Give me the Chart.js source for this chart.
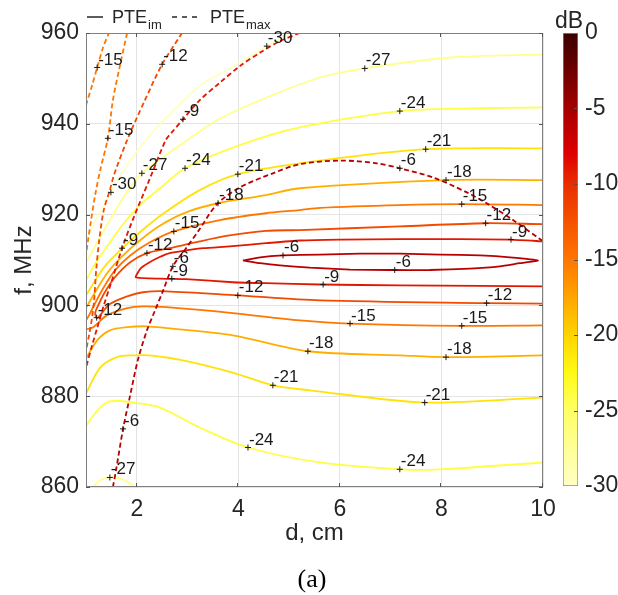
<!DOCTYPE html>
<html>
<head>
<meta charset="utf-8">
<script src="https://cdn.jsdelivr.net/npm/chart.js@4.4.1/dist/chart.umd.min.js"></script>
<style>
  html, body { margin: 0; padding: 0; background: #fff; }
  #wrap { position: relative; width: 618px; height: 595px; }
  #wrap canvas { position: absolute; top: 0; }
  #plot { left: 0; }
  #cbar { left: 545px; }
</style>
</head>
<body>
<div id="wrap">
  <canvas id="plot" width="618" height="595"></canvas>
  <canvas id="cbar" width="73" height="595"></canvas>
</div>
<script>
// axis ticks
const dTicks = [2, 4, 6, 8, 10];
const fTicks = [860, 880, 900, 920, 940, 960];
const dbTicks = [-30, -25, -20, -15, -10, -5, 0];

// PTE_im contours, points are [d (cm), f (MHz)], null breaks the line
const pteIm30 = [[1.0,914.3],[1.24,919.9],[1.49,924.9],[1.87,931.9],[2.26,937.5],[2.73,943.0],[3.24,948.4],[3.83,952.2],[4.56,957.1],[5.0,960]];
const pteIm27 = [[1.0,909.5],[1.24,914.3],[1.47,918.8],[1.77,924.3],[2.10,929.1],[2.79,934.8],[3.58,940.8],[4.56,945.8],[5.61,950.2],[6.49,952.2],[8.17,954.6],[10,955.3],
  null, [1.14,860],[1.28,861.5],[1.47,862.1],[1.67,861.9],[1.87,860.8],[1.96,860]];
const pteIm24 = [[1.0,905.5],[1.2,909.5],[1.43,913.2],[1.71,917.6],[2.06,922.1],[2.46,925.8],[2.95,930.2],[4.03,935.3],[5.21,939.2],[7.18,942.8],[8.56,943.4],[10,943.6],
  null, [1.0,873.5],[1.22,876.8],[1.41,878.6],[1.61,879.0],[1.93,878.6],[2.46,877.5],[3.24,873.1],[4.19,868.7],[5.61,865.4],[7.18,863.9],[7.97,863.9],[10,865.4]];
const pteIm21 = [[1.0,902.2],[1.16,905.1],[1.37,908.6],[1.67,912.1],[2.06,916.1],[2.56,920.5],[3.24,925.4],[3.99,928.9],[5.21,931.3],[7.69,934.4],[10,934.6],
  null, [1.0,880.6],[1.28,886.3],[1.61,888.6],[1.93,889.0],[2.26,889.0],[2.91,887.9],[3.89,885.2],[4.68,882.4],[5.41,881.3],[7.67,878.6],[10,879.7]];
const pteIm18 = [[10,927.6],[8.09,927.6],[5.21,925.8],[4.54,924.3],[3.6,922.5],[2.97,920.5],[2.46,917.6],[2.06,914.3],[1.71,910.8],[1.43,907.3],[1.2,903.3],[1.0,899.4],
  null, [1.0,888.3],[1.22,892.3],[1.47,894.5],[1.81,895.2],[2.2,895.4],[2.59,895.0],[3.89,893.4],[5.37,889.9],[7.18,889.0],[8.09,888.6],[10,889.0]];
const pteIm15 = [[10,922.1],[8.40,922.3],[7.18,922.1],[5.61,921.5],[5.21,921.0],[4.54,920.3],[3.64,918.8],[2.73,916.3],[2.26,913.9],[1.87,911.0],[1.57,907.7],[1.35,904.0],[1.18,900.5],[1.06,897.8],[1.0,896.7],
  null, [1.0,894.7],[1.14,895.2],[1.41,897.8],[1.81,899.4],[2.12,899.8],[2.59,899.6],[3.89,898.3],[5.21,896.7],[6.20,896.0],[8.40,895.5],[10,895.6]];
const pteIm12 = [[10,917.9],[8.87,918.1],[7.18,917.4],[5.21,916.6],[4.54,916.4],[3.83,915.4],[3.24,914.1],[2.65,912.6],[2.20,911.5],[1.87,909.5],[1.57,906.2],[1.37,902.9],[1.24,900.0],[1.18,898.3],[1.22,897.2],
  [1.31,898.3],[1.47,900.3],[1.81,902.0],[2.12,902.9],[2.59,903.1],[3.99,902.2],[5.61,901.1],[8.89,900.5],[10,900.4]];
const pteIm9 = [[10,914.1],[9.37,914.5],[8.36,914.6],[7.18,914.6],[6.0,914.5],[5.21,914.3],[4.54,913.7],[3.83,913.0],[3.32,912.6],[2.97,912.1],[2.65,911.5],[2.44,910.6],[2.22,909.3],[2.08,908.2],[1.98,906.2],
  [2.46,905.9],[2.97,905.8],[3.89,905.1],[4.54,904.9],[5.61,904.6],[7.18,904.4],[8.76,904.3],[10,904.2]];
const pteIm6 = [[4.09,909.9],[4.43,910.6],[4.88,911.0],[5.61,911.2],[6.39,911.4],[7.18,911.4],[7.97,911.2],[8.76,911.0],[9.35,910.6],[9.9,909.9],
  [9.54,909.3],[9.15,908.6],[8.56,908.1],[7.77,907.8],[6.98,907.8],[6.2,907.9],[5.41,908.3],[4.82,908.8],[4.43,909.3],[4.09,909.9]];

// PTE_max contours
const pteMax15 = [[1.0,944.1],[1.12,948.5],[1.22,952.4],[1.33,956.6],[1.45,960],
  null, [1.81,960],[1.67,952.9],[1.53,945.2],[1.43,936.8],[1.28,929.8],[1.18,924.3],[1.10,918.8],[1.04,914.3],[1.0,911.0]];
const pteMax12 = [[2.89,960],[2.50,953.1],[2.16,945.2],[1.81,936.4],[1.55,928.7],[1.47,925.4],[1.35,921.0],[1.26,914.3],[1.20,907.7],[1.16,901.1],[1.12,897.4],[1.06,893.4],[1.0,890.1]];
const pteMax9 = [[5.21,960],[4.82,958.2],[4.43,955.7],[4.03,952.7],[3.64,949.1],[3.24,945.2],[2.91,941.0],[2.69,938.1],[2.57,936.4],[2.26,928.0],[1.94,919.4],[1.71,912.6],[1.51,905.5],[1.35,900.0],[1.22,895.0],[1.12,891.2],[1.0,886.3]];
const pteMax6 = [[1.53,860],[1.59,863.6],[1.73,872.8],[1.87,880.2],[2.02,887.9],[2.20,894.5],[2.36,898.9],[2.52,903.3],[2.71,908.6],[2.97,912.6],[3.22,916.5],[3.58,922.3],[4.03,926.0],[4.68,929.1],[5.21,931.1],[6.0,931.9],[6.73,931.3],[7.18,930.2],[7.83,928.2],[8.50,924.9],[8.89,922.5],[9.41,918.8],[9.98,914.3]];

// contour labels [d, f, level]
const imLabels = [
  [4.56,957.1,-30],[1.49,924.9,-30],
  [6.49,952.2,-27],[2.10,929.1,-27],[1.47,862.1,-27],
  [7.18,942.8,-24],[2.95,930.2,-24],[4.19,868.7,-24],[7.18,863.9,-24],
  [7.69,934.4,-21],[3.99,928.9,-21],[4.68,882.4,-21],[7.67,878.6,-21],
  [8.09,927.6,-18],[3.60,922.5,-18],[5.37,889.9,-18],[8.09,888.6,-18],
  [8.40,922.3,-15],[2.73,916.3,-15],[6.20,896.0,-15],[8.40,895.5,-15],
  [8.87,918.1,-12],[2.20,911.5,-12],[3.99,902.2,-12],[8.89,900.5,-12],[1.21,897.3,-12],
  [9.37,914.5,-9],[2.69,905.9,-9],[5.67,904.6,-9],
  [4.88,911.0,-6],[7.08,907.8,-6]
];
const maxLabels = [
  [1.22,952.4,-15],[1.43,936.8,-15],
  [2.50,953.1,-12],
  [2.91,941.0,-9],[1.71,912.6,-9],
  [2.71,908.6,-6],[1.73,872.8,-6],[7.18,930.2,-6]
];

const imLines = [[-30, pteIm30], [-27, pteIm27], [-24, pteIm24], [-21, pteIm21], [-18, pteIm18], [-15, pteIm15], [-12, pteIm12], [-9, pteIm9], [-6, pteIm6]];
const maxLines = [[-15, pteMax15], [-12, pteMax12], [-9, pteMax9], [-6, pteMax6]];

// colour map, pale yellow (-30 dB) to dark red (0 dB)
const cmapStops = [[-30,[255,255,196]],[-27.5,[255,255,150]],[-25,[255,255,100]],[-22.5,[255,250,20]],[-20,[255,212,0]],[-17.5,[255,165,0]],
  [-15,[255,118,0]],[-12.5,[245,82,0]],[-10,[232,46,0]],[-8,[222,0,0]],[-5,[165,0,0]],[-2.5,[110,0,0]],[0,[58,0,0]]];

function cmap(v) {
  for (let i = 1; i < cmapStops.length; i++) {
    const [v0, c0] = cmapStops[i - 1];
    const [v1, c1] = cmapStops[i];
    if (v <= v1) {
      const t = (v - v0) / (v1 - v0);
      return 'rgb(' + c0.map((c, k) => Math.round(c + (c1[k] - c) * t)).join(',') + ')';
    }
  }
  return 'rgb(' + cmapStops[cmapStops.length - 1][1].join(',') + ')';
}

const FAM = '"Liberation Sans", Arial, Helvetica, sans-serif';
const TXT = '#262626';
Chart.defaults.font.family = FAM;
Chart.defaults.color = TXT;

const toXY = (arr) => arr.map((p) => p ? { x: p[0], y: p[1] } : { x: null, y: null });

const datasets = [
  {
    data: imLabels.concat(maxLabels).map((l) => ({ x: l[0], y: l[1] })),
    showLine: false, pointStyle: 'cross', pointRadius: 3, borderColor: '#1a1a1a', borderWidth: 1, order: 0
  },
  ...maxLines.map(([lv, arr]) => ({
    data: toXY(arr), showLine: true, borderColor: cmap(lv), borderWidth: 1.8, borderDash: [5, 3],
    pointRadius: 0, tension: 0.3, order: 1
  })),
  ...imLines.map(([lv, arr]) => ({
    data: toXY(arr), showLine: true, borderColor: cmap(lv), borderWidth: 1.8,
    pointRadius: 0, tension: lv === -6 || lv === -9 ? 0.15 : 0.3, order: 2
  }))
];

const frame = {
  id: 'frame',
  afterDatasetsDraw(chart) {
    const { ctx, chartArea: a, scales: { x, y } } = chart;
    ctx.save();
    ctx.strokeStyle = '#808080';
    ctx.lineWidth = 1;
    ctx.strokeRect(a.left + 0.5, a.top + 0.5, a.right - a.left - 1, a.bottom - a.top - 1);
    ctx.strokeStyle = '#555';
    ctx.beginPath();
    dTicks.forEach((v) => {
      const px = Math.round(x.getPixelForValue(v)) - 0.5;
      ctx.moveTo(px, a.bottom); ctx.lineTo(px, a.bottom - 4);
      ctx.moveTo(px, a.top); ctx.lineTo(px, a.top + 4);
    });
    fTicks.forEach((v) => {
      const py = Math.round(y.getPixelForValue(v)) + 0.5;
      ctx.moveTo(a.left, py); ctx.lineTo(a.left + 4, py);
      ctx.moveTo(a.right, py); ctx.lineTo(a.right - 4, py);
    });
    ctx.stroke();
    ctx.restore();
  }
};

const labelText = {
  id: 'labelText',
  afterDatasetsDraw(chart) {
    const { ctx, scales: { x, y } } = chart;
    ctx.save();
    ctx.font = '17px ' + FAM;
    ctx.fillStyle = '#1a1a1a';
    ctx.textAlign = 'left';
    ctx.textBaseline = 'alphabetic';
    imLabels.concat(maxLabels).forEach(([d, f, v]) => {
      ctx.fillText(String(v), x.getPixelForValue(d) + 1, y.getPixelForValue(f) - 3);
    });
    ctx.restore();
  }
};

const legendAndCaption = {
  id: 'legendAndCaption',
  afterDraw(chart) {
    const { ctx } = chart;
    ctx.save();
    ctx.strokeStyle = TXT;
    ctx.fillStyle = TXT;
    ctx.lineWidth = 1.5;
    ctx.beginPath(); ctx.moveTo(87, 17); ctx.lineTo(103, 17); ctx.stroke();
    ctx.setLineDash([5, 5]);
    ctx.beginPath(); ctx.moveTo(172, 17); ctx.lineTo(200, 17); ctx.stroke();
    ctx.setLineDash([]);
    ctx.textBaseline = 'alphabetic';
    ctx.textAlign = 'left';
    [[112, 'im'], [210, 'max']].forEach(([x0, sub]) => {
      ctx.font = '18px ' + FAM;
      ctx.fillText('PTE', x0, 23);
      const w = ctx.measureText('PTE').width;
      ctx.font = '13px ' + FAM;
      ctx.fillText(sub, x0 + w + 1, 29);
    });
    ctx.fillStyle = '#000';
    ctx.textAlign = 'center';
    ctx.font = '26px "Liberation Serif", "Times New Roman", serif';
    ctx.fillText('(a)', 312, 587);
    ctx.restore();
  }
};

new Chart(document.getElementById('plot'), {
  type: 'scatter',
  data: { datasets },
  options: {
    responsive: false,
    animation: false,
    events: [],
    layout: { padding: { left: 0, right: 75, top: 33, bottom: 0 } },
    plugins: { legend: { display: false }, tooltip: { enabled: false } },
    scales: {
      x: {
        type: 'linear', min: 1, max: 10,
        afterBuildTicks: (s) => { s.ticks = dTicks.map((v) => ({ value: v })); },
        afterFit: (s) => { s.height = 108; },
        grid: { color: '#e4e4e4', drawTicks: false },
        border: { display: false },
        ticks: { padding: 9, autoSkip: false, maxRotation: 0, font: { size: 23 }, color: TXT },
        title: { display: true, text: 'd, cm', font: { size: 24 }, color: TXT, padding: { top: 0, bottom: 47 } }
      },
      y: {
        type: 'linear', min: 860, max: 960,
        afterBuildTicks: (s) => { s.ticks = fTicks.map((v) => ({ value: v })); },
        afterFit: (s) => { s.width = 86; },
        grid: { color: '#e4e4e4', drawTicks: false },
        border: { display: false },
        ticks: { padding: 7, autoSkip: false, font: { size: 23 }, color: TXT },
        title: { display: true, text: 'f, MHz', font: { size: 24 }, color: TXT, padding: { top: 10, bottom: 0 } }
      }
    }
  },
  plugins: [frame, labelText, legendAndCaption]
});

function cbarGradient(chart) {
  const a = chart.chartArea;
  if (!a) return cmap(-15);
  const g = chart.ctx.createLinearGradient(0, a.bottom, 0, a.top);
  cmapStops.forEach(([v, c]) => g.addColorStop((v - dbTicks[0]) / (dbTicks[dbTicks.length - 1] - dbTicks[0]), 'rgb(' + c.join(',') + ')'));
  return g;
}

const cbarDecor = {
  id: 'cbarDecor',
  afterDatasetsDraw(chart) {
    const { ctx, chartArea: a, scales: { y } } = chart;
    ctx.save();
    ctx.strokeStyle = '#555';
    ctx.lineWidth = 1;
    ctx.beginPath();
    dbTicks.slice(1, -1).forEach((v) => {
      const py = Math.round(y.getPixelForValue(v)) + 0.5;
      ctx.moveTo(a.right, py); ctx.lineTo(a.right - 4, py);
    });
    ctx.stroke();
    ctx.fillStyle = TXT;
    ctx.font = '23px ' + FAM;
    ctx.textAlign = 'center';
    ctx.textBaseline = 'alphabetic';
    ctx.fillText('dB', 24, 28);
    ctx.restore();
  }
};

new Chart(document.getElementById('cbar'), {
  type: 'bar',
  data: {
    labels: ['dB'],
    datasets: [{
      data: [[dbTicks[0], dbTicks[dbTicks.length - 1]]],
      backgroundColor: (c) => cbarGradient(c.chart),
      borderColor: '#8c8c8c', borderWidth: 1, borderSkipped: false,
      barPercentage: 1, categoryPercentage: 1
    }]
  },
  options: {
    responsive: false,
    animation: false,
    events: [],
    layout: { padding: { left: 18, right: 0, top: 33, bottom: 109 } },
    plugins: { legend: { display: false }, tooltip: { enabled: false } },
    scales: {
      x: { display: false },
      y: {
        position: 'right', min: dbTicks[0], max: dbTicks[dbTicks.length - 1],
        afterBuildTicks: (s) => { s.ticks = dbTicks.map((v) => ({ value: v })); },
        afterFit: (s) => { s.width = 40; },
        grid: { display: false, drawTicks: false },
        border: { display: false },
        ticks: { padding: 7, autoSkip: false, font: { size: 23 }, color: TXT }
      }
    }
  },
  plugins: [cbarDecor]
});
</script>
</body>
</html>
